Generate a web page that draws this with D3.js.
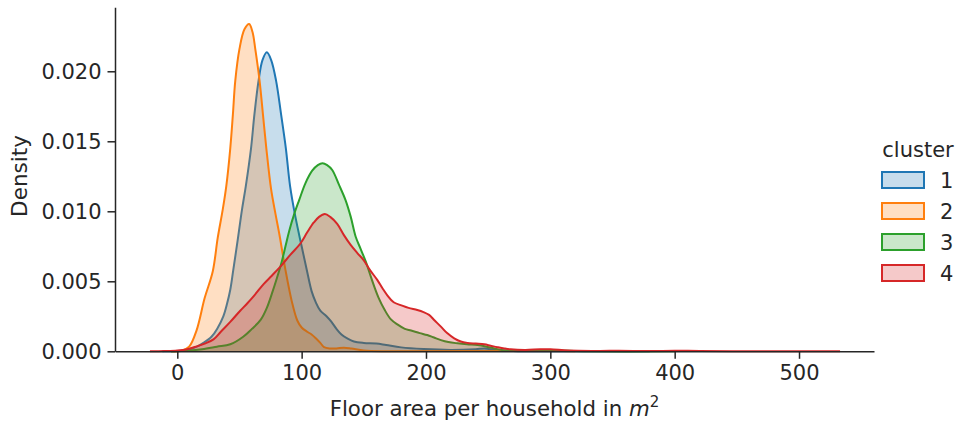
<!DOCTYPE html>
<html>
<head>
<meta charset="utf-8">
<script src="https://cdn.jsdelivr.net/npm/d3@7"></script>
<style>
    body { margin: 0; background: #fff; }
    svg { display: block; font-family: 'DejaVu Sans', sans-serif; }
</style>
</head>
<body>
<svg id="chart" width="959" height="423"></svg>
<script>
// KDE of floor area per household, one curve per cluster

const clusters = ['1', '2', '3', '4'];
const colors = ['#1f77b4', '#ff7f0e', '#2ca02c', '#d62728'];
const xTicks = [0, 100, 200, 300, 400, 500];
const yTicks = [0, 0.005, 0.010, 0.015, 0.020];

// [area, density]
const cluster1 = [
    [-12, 0], [0, 0.00002], [8, 0.0001], [15.7, 0.00033], [21, 0.0006], [27.5, 0.00104],
    [32, 0.0016], [37, 0.0025], [40, 0.0034], [42.6, 0.0044], [45, 0.0058], [48.5, 0.0079],
    [52, 0.0101], [55.1, 0.0118], [59.3, 0.0145], [62, 0.0169], [65.3, 0.0193], [68.5, 0.0208],
    [72, 0.02136], [75.5, 0.0208], [79.5, 0.0193], [83.5, 0.0169], [87.3, 0.0145], [90.7, 0.0118],
    [95, 0.0096], [100, 0.0075], [104.4, 0.0057], [108, 0.0043], [111.4, 0.0035], [115, 0.0029],
    [120, 0.0025], [124, 0.0021], [128, 0.0016], [132, 0.0012], [137, 0.0009], [142, 0.0007],
    [150, 0.0006], [160, 0.00056], [168, 0.00045], [180, 0.00028], [198, 0.00016], [220, 0.0001],
    [240, 0.00015], [247, 0.0002], [256, 0.0001], [270, 0.00003], [300, 0], [380, 0]
];
const cluster2 = [
    [-5, 0], [3, 0.00003], [9.5, 0.00033], [15.5, 0.0015], [22, 0.0038], [28.5, 0.0057],
    [32.5, 0.0081], [36.5, 0.0101], [39.4, 0.0118], [42.6, 0.0145], [44.7, 0.0169], [46.6, 0.0193],
    [50, 0.0216], [54, 0.023], [57.8, 0.02338], [60.5, 0.0228], [62.7, 0.0216], [66.2, 0.0193],
    [68.9, 0.0169], [71.6, 0.0145], [75.4, 0.0116], [79, 0.0098], [82.4, 0.0082], [87, 0.0058],
    [92, 0.0036], [96.5, 0.0022], [100, 0.0017], [104.4, 0.0014], [108, 0.0012], [111.4, 0.00093],
    [115, 0.0006], [118, 0.0003], [123, 0.0002], [128, 0.0002], [134, 0.00026], [140, 0.0002],
    [150, 0.00005], [170, 0], [300, 0.00004], [320, 0]
];
const cluster3 = [
    [-5, 0], [10, 0.00005], [20, 0.00015], [31.8, 0.00033], [42.6, 0.0005], [53, 0.00104],
    [60, 0.0016], [67, 0.00224], [72, 0.0031], [76, 0.0041], [80, 0.0052], [84, 0.0064],
    [87, 0.0075], [90, 0.0086], [94, 0.0098], [98, 0.0108], [103, 0.012], [108.5, 0.0129],
    [113, 0.0133], [116.8, 0.01343], [120.5, 0.0133], [124.6, 0.01295], [130, 0.0119],
    [135.3, 0.0108], [139.5, 0.0096], [143.4, 0.0082], [147.5, 0.0073], [151.6, 0.0064],
    [155, 0.0055], [158.5, 0.0046], [162, 0.0038], [166.5, 0.003], [171.6, 0.0023],
    [177.3, 0.0019], [183, 0.0016], [188, 0.00148], [195, 0.0013], [201, 0.00116], [206, 0.001],
    [212, 0.0008], [218, 0.00066], [225.3, 0.00057], [233, 0.0005], [241.5, 0.00045],
    [248, 0.00035], [255, 0.0002], [262, 0.00008], [275, 0.00002], [300, 0.00006], [330, 0], [400, 0]
];
const cluster4 = [
    [-22, 0], [-10, 0.00002], [0, 0.00006], [8, 0.00015], [15.7, 0.00035], [22, 0.00055],
    [29.1, 0.00085], [35, 0.0014], [42.6, 0.0021], [50.6, 0.0029], [56, 0.0034], [62, 0.004],
    [69.4, 0.0048], [76, 0.0054], [82.9, 0.00605], [91, 0.0069], [99, 0.0077], [104.5, 0.0085],
    [109.8, 0.0092], [114, 0.0096], [118.7, 0.0098], [123, 0.0096], [128.6, 0.0091], [134, 0.0083],
    [139.4, 0.0076], [145, 0.007], [150, 0.0065], [155, 0.0058], [160.8, 0.0051], [165, 0.0045],
    [168.9, 0.004], [174, 0.0035], [179.7, 0.0033], [186, 0.0031], [193, 0.00295], [198, 0.0028],
    [202.5, 0.0026], [207, 0.0022], [212, 0.00176], [217, 0.0013], [222.7, 0.00093], [228, 0.0007],
    [233.4, 0.0006], [240, 0.00055], [246.9, 0.0005], [252, 0.0004], [257.7, 0.00029], [263, 0.0002],
    [268, 0.00014], [280, 0.0001], [292, 0.00015], [300, 0.00015], [315, 0.00005], [340, 0.00003],
    [355, 0.00004], [380, 0.00002], [400, 0.00004], [420, 0.00002], [460, 0.00001], [500, 0.00001], [533, 0]
];
const series = [cluster1, cluster2, cluster3, cluster4];

const svg = d3.select('#chart');
const ink = '#262626';

const x = d3.scaleLinear().domain([-50.1, 560.3]).range([115, 874]);
const y = d3.scaleLinear().domain([0, 0.02457]).range([351.3, 7.3]);

// Curves: fill + outline, drawn in hue order
const curve = d3.curveCatmullRom.alpha(0.5);
const area = d3.area()
    .x(d => x(d[0]))
    .y0(y(0))
    .y1(d => Math.min(y(0), y(d[1])))
    .curve(curve);
const line = d3.line()
    .x(d => x(d[0]))
    .y(d => y(d[1]))
    .curve(curve);

const plot = svg.append('g');
series.forEach((pts, i) => {
    plot.append('path')
        .attr('d', area(pts))
        .attr('fill', colors[i])
        .attr('fill-opacity', 0.25)
        .attr('stroke', 'none');
    plot.append('path')
        .attr('d', line(pts))
        .attr('fill', 'none')
        .attr('stroke', colors[i])
        .attr('stroke-width', 2)
        .attr('stroke-linejoin', 'round');
});

// Axes
const xAxis = svg.append('g')
    .attr('transform', `translate(0,${y(0)})`)
    .call(d3.axisBottom(x).tickValues(xTicks).tickSizeInner(7.5).tickSizeOuter(0).tickPadding(6));
const yAxis = svg.append('g')
    .attr('transform', `translate(${x.range()[0]},0)`)
    .call(d3.axisLeft(y).tickValues(yTicks).tickFormat(d3.format('.3f')).tickSizeInner(7.5).tickSizeOuter(0).tickPadding(6));

[xAxis, yAxis].forEach(a => {
    a.select('.domain').attr('stroke', ink).attr('stroke-width', 1.5);
    a.selectAll('.tick line').attr('stroke', ink).attr('stroke-width', 1.5);
    a.selectAll('.tick text')
        .attr('fill', ink)
        .style('font-family', "'DejaVu Sans', sans-serif")
        .style('font-size', '21px');
});

// Axis labels
const xLabel = svg.append('text')
    .attr('x', (x.range()[0] + x.range()[1]) / 2)
    .attr('y', 416)
    .attr('text-anchor', 'middle')
    .attr('fill', ink)
    .style('font-size', '21.3px');
xLabel.append('tspan').text('Floor area per household in ');
xLabel.append('tspan').style('font-style', 'italic').text('m');
xLabel.append('tspan').attr('dy', -9).style('font-size', '15px').text('2');

svg.append('text')
    .attr('transform', 'translate(27,176) rotate(-90)')
    .attr('text-anchor', 'middle')
    .attr('fill', ink)
    .style('font-size', '21.5px')
    .text('Density');

// Legend
const legend = svg.append('g').attr('transform', 'translate(881,0)');
legend.append('text')
    .attr('x', 37)
    .attr('y', 157)
    .attr('text-anchor', 'middle')
    .attr('fill', ink)
    .style('font-size', '21px')
    .text('cluster');

clusters.forEach((c, i) => {
    const cy = 180 + i * 31;
    legend.append('rect')
        .attr('x', 1)
        .attr('y', cy - 8)
        .attr('width', 42)
        .attr('height', 16)
        .attr('fill', colors[i])
        .attr('fill-opacity', 0.25)
        .attr('stroke', colors[i])
        .attr('stroke-width', 2);
    legend.append('text')
        .attr('x', 59)
        .attr('y', cy + 7.5)
        .attr('fill', ink)
        .style('font-size', '21px')
        .text(c);
});
</script>
</body>
</html>
